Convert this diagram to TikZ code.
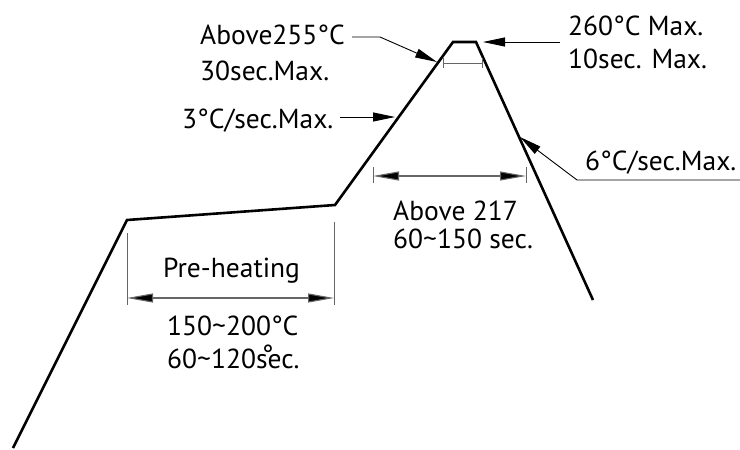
\documentclass[tikz,border=0pt]{standalone}
\usepackage{fontspec}
\setmainfont{PT Sans}
\usepackage{tikz}
\usetikzlibrary{arrows.meta}

\begin{document}
\begin{tikzpicture}[x=1pt,y=-1pt,
    profile/.style={line width=2.6pt, line join=miter},
    leader/.style={line width=0.9pt, -{Triangle[length=22pt,width=9pt]}},
    dimline/.style={line width=1.1pt, draw=black!60, {Triangle[length=26pt,width=9pt,fill=black]}-{Triangle[length=26pt,width=9pt,fill=black]}},
    extline/.style={line width=1pt, draw=black!60},
    lbl/.style={anchor=base west, inner sep=0pt, font=\fontsize{27.5}{30}\selectfont}]
    \useasboundingbox (0,0) rectangle (740,450);

    % Profile corners
    \foreach \n/\x/\y in {0/13/448, 1/127/220, 2/335/205, 3/453/42, 4/476/42, 5/593/300}
      \coordinate (p\n) at (\x,\y);

    % Draw the reflow profile
    \draw[profile] (p0) -- (p1) -- (p2) -- (p3) -- (p4) -- (p5);

    % Labels
    \foreach \n/\x/\y/\t in {
        abovea/200/44/{Above255°C},
        aboveb/200/80/{30sec.Max.},
        rampup/182/128/{3°C/sec.Max.},
        peaka/568/35/{260°C Max.},
        peakb/568/68/{10sec. Max.},
        rampdown/585/170/{6°C/sec.Max.},
        liqa/393/220/{Above 217},
        liqb/393/248/{60\textasciitilde150 sec.},
        pre/163/277/{Pre-heating},
        prea/167/335/{150\textasciitilde200°C},
        preb/167/368/{60\textasciitilde120s\makebox[0pt]{\raisebox{0.14em}{°}}ec.}}
      \node[lbl] (\n) at (\x,\y) {\t};

    % Leader points
    \coordinate (l255s) at (352,37);
    \coordinate (l255m) at (380,37);
    \coordinate (l255e) at (437,62);
    \coordinate (l3s) at (340,117);
    \coordinate (l3e) at (395,117);
    \coordinate (l260s) at (560,42);
    \coordinate (l260e) at (483,42);
    \coordinate (l6s) at (740,180);
    \coordinate (l6m) at (577,180);
    \coordinate (l6e) at (520,137);

    % Draw leaders
    \draw[leader] (l255s) -- (l255m) -- (l255e);
    \draw[leader] (l3s) -- (l3e);
    \draw[leader] (l260s) -- (l260e);
    \draw[leader] (l6s) -- (l6m) -- (l6e);

    % Dimension ends
    \foreach \n/\x/\ya/\yb in {pl/127/233/305, pr/334/222/305, ll/373/167/183, lr/526/167/183, tl/443/58/68, tr/482/58/68} {
      \coordinate (\n a) at (\x,\ya);
      \coordinate (\n b) at (\x,\yb);
      \draw[extline] (\n a) -- (\n b);
    }
    \coordinate (pld) at (127,298);
    \coordinate (prd) at (334,298);
    \coordinate (lld) at (373,176);
    \coordinate (lrd) at (526,176);
    \coordinate (tld) at (443,63);
    \coordinate (trd) at (482,63);

    % Draw dimension lines
    \draw[dimline] (pld) -- (prd);
    \draw[dimline] (lld) -- (lrd);
    \draw[extline] (tld) -- (trd);

\end{tikzpicture}
\end{document}
